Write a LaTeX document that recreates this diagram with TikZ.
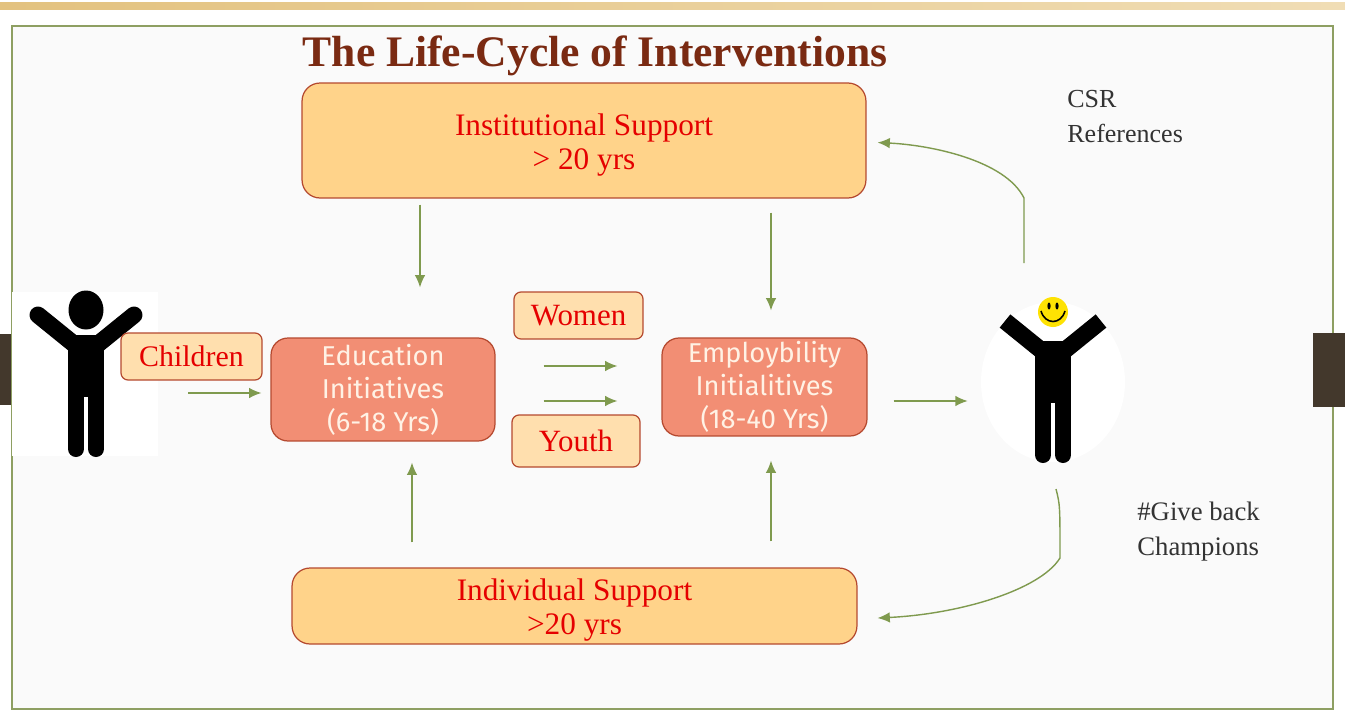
\documentclass[tikz,border=0pt]{standalone}
\usepackage{fontspec}
\setmainfont{Liberation Serif}
\newfontfamily\boxfont{Fira Sans}
\usetikzlibrary{arrows.meta, positioning, shapes.geometric}
\definecolor{framegreen}{HTML}{8E9F62}
\definecolor{flowgreen}{HTML}{7F9A4E}
\definecolor{edgered}{HTML}{B5492F}
\definecolor{sandfill}{HTML}{FFD38A}
\definecolor{palesand}{HTML}{FFDFAE}
\definecolor{salmon}{HTML}{F28E74}
\definecolor{titlebrown}{HTML}{7A2A12}
\definecolor{darkpost}{HTML}{43382C}
\definecolor{bandleft}{HTML}{E3C27F}
\definecolor{bandright}{HTML}{F0DDB5}
\newcommand{\droptext}{\rule{0pt}{17pt}}
\tikzset{
  support/.style = {draw=edgered, fill=sandfill, line width=0.7pt, rounded corners=0.36cm, inner sep=0pt, align=center, text=red!90!black, font=\fontsize{17.8}{19.4}\selectfont},
  tag/.style = {draw=edgered, fill=palesand, line width=0.7pt, rounded corners=0.14cm, inner sep=0pt, text=red!90!black, font=\fontsize{17.6}{19.4}\selectfont},
  initiative/.style = {draw=edgered, fill=salmon, line width=0.7pt, rounded corners=0.34cm, inner sep=0pt, align=center, text=white!90!orange, font=\boxfont\fontsize{15.5}{18.7}\selectfont},
  remark/.style = {anchor=west, inner sep=0pt, text=black!80, font=\fontsize{14.8}{19.8}\selectfont},
  flow/.style = {draw=flowgreen, line width=0.8pt, -{Latex[length=7pt,width=6pt]}},
  stickman/.pic = {
    \fill [black] (-18,0) rectangle (18,62);
    \draw [black, line width=0.32cm, line cap=round] (-10,55) -- (-10,114) (10,55) -- (10,114);
    \draw [black, line width=0.34cm, pic actions] (-6,14) -- (-48,-20) (6,14) -- (48,-20);
  }
}

\begin{document}
\begin{tikzpicture}[x=0.02cm, y=-0.02cm, >=Latex]

    % Page, band and frame
    \useasboundingbox (0,0) rectangle (1345,720);
    \fill [white] (0,0) rectangle (1345,720);
    \fill [black!2] (12,26) rectangle (1333,709);
    \shade [left color=bandleft, right color=bandright] (0,2) rectangle (1345,9);
    \draw [framegreen, line width=0.9pt] (12,26) rectangle (1333,709);
    \fill [darkpost] (0,334) rectangle (11,405);
    \fill [darkpost] (1313,333) rectangle (1345,407);

    % Place the nodes
    \node [font=\bfseries\fontsize{24.8}{28}\selectfont, text=titlebrown] (title) at (595,56) {The Life-Cycle of Interventions};
    \node [support, minimum width=11.28cm, minimum height=2.3cm] (institutional) at (584,140.5) {\droptext Institutional Support\\> 20 yrs};
    \node [support, minimum width=11.3cm, minimum height=1.52cm] (individual) at (574.5,606) {\droptext Individual Support\\>20 yrs};
    \node [initiative, minimum width=4.48cm, minimum height=2.06cm] (education) at (383,389.5) {Education\\Initiatives\\(6-18 Yrs)};
    \node [initiative, minimum width=4.1cm, minimum height=1.96cm] (employ) at (764.5,387) {Employbility\\Initialitives\\(18-40 Yrs)};
    \node [tag, minimum width=2.58cm, minimum height=0.94cm] (women) at (578.5,315.5) {Women};
    \node [tag, minimum width=2.56cm, minimum height=1.04cm] (youth) at (576,441) {Youth};

    % The child on the left
    \node [fill=white, minimum width=2.92cm, minimum height=3.28cm, inner sep=0pt] (child) at (85,374) {};
    \pic [line cap=round] at (86,335) {stickman};
    \fill [black] (86,310) ellipse (17.5 and 19.5);
    \node [tag, font=\fontsize{17}{19.4}\selectfont, minimum width=2.82cm, minimum height=0.94cm] (children) at (191.5,356.5) {Children};

    % The grown person on the right
    \node [ellipse, fill=white, minimum width=2.88cm, minimum height=3.2cm, inner sep=0pt] (adult) at (1053,382) {};
    \pic at (1053,341) {stickman};
    \node [circle, fill=yellow!85!orange, minimum size=0.6cm, inner sep=0pt] (smiley) at (1053,312) {};
    \fill [black] (1049,306) ellipse (1.6 and 3.5) (1057,306) ellipse (1.6 and 3.5);
    \draw [black, line width=0.9pt] (1041,311) .. controls (1045,325) and (1061,325) .. (1065,311);

    % Side remarks
    \node [remark, align=left] (csr) at (1067,116.5) {CSR\\References};
    \node [remark, font=\fontsize{15.2}{19.8}\selectfont, align=left] (giveback) at (1137,531.5) {\#Give back\\Champions};

    % Free ends and the columns the arrows run along
    \coordinate (colA) at (420,0);
    \coordinate (colB) at (771,0);
    \coordinate (colC) at (412,0);
    \coordinate (rowA) at (0,393);
    \coordinate (rowB) at (0,366);
    \coordinate (rowC) at (0,401);
    \coordinate (riseStart) at (1024,263);
    \coordinate (dropStart) at (1056,489);

    % Draw the arrows
    \draw [flow, shorten <=0.6cm, shorten >=0.18cm] (child.east |- rowA) -- (education.west |- rowA);
    \draw [flow, shorten <=0.12cm, shorten >=1cm] (institutional.south -| colA) -- (education.north -| colA);
    \draw [flow, shorten <=0.28cm, shorten >=0.54cm] (institutional.south -| colB) -- (employ.north -| colB);
    \draw [flow, shorten <=0.5cm, shorten >=0.42cm] (individual.north -| colC) -- (education.south -| colC);
    \draw [flow, shorten <=0.52cm, shorten >=0.48cm] (individual.north -| colB) -- (employ.south -| colB);
    \draw [flow, shorten <=0.96cm, shorten >=0.88cm] (education.east |- rowB) -- (employ.west |- rowB);
    \draw [flow, shorten <=0.96cm, shorten >=0.88cm] (education.east |- rowC) -- (employ.west |- rowC);
    \draw [flow, shorten <=0.52cm, shorten >=0.26cm] (employ.east |- rowC) -- (adult.west |- rowC);
    \draw [flow, shorten >=0.22cm] (riseStart) -- (1024,198) .. controls (1005,160) and (930,145) .. (institutional.east |- 0,142);
    \draw [flow, shorten >=0.4cm] (dropStart) .. controls (1060,505) .. (1060,558) .. controls (1040,590) and (960,614) .. (individual.east |- 0,619);

\end{tikzpicture}
\end{document}
